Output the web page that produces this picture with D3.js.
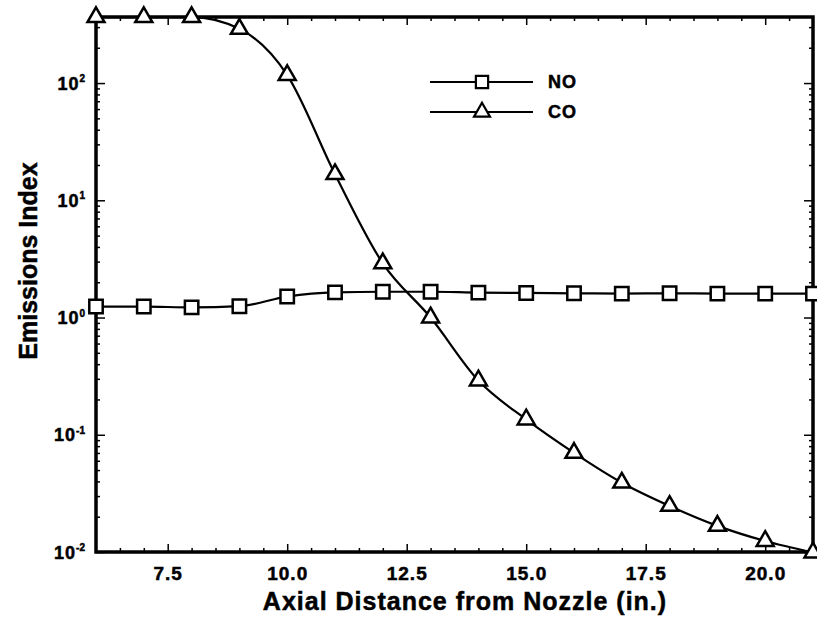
<html lang='en'>
<head>
  <meta charset='UTF-8'/>
  <title>Emissions Index vs Axial Distance</title>
  <script src='https://d3js.org/d3.v7.min.js'></script>
  <style>
    body { margin: 0; background: #fff; }
    text { font-family: 'Liberation Sans', Arial, sans-serif; font-weight: bold; fill: #000;
           stroke: #000; stroke-width: 0.5px; }
  </style>
</head>
<body>
  <svg id='chart' width='817' height='618'></svg>
</body>
</html>

<script>
// data
const distance = [6, 7, 8, 9, 10, 11, 12, 13, 14, 15, 16, 17, 18, 19, 20, 21];
const noValues = [1.24, 1.24, 1.22, 1.25, 1.51, 1.64, 1.66, 1.66, 1.63, 1.62, 1.61, 1.6, 1.61, 1.6, 1.6, 1.6];
const coValues = [365, 365, 365, 290, 117, 16.7, 2.9, 1.0, 0.29, 0.135, 0.07, 0.039, 0.0247, 0.0167, 0.0124, 0.0099];
const xTicks = [7.5, 10.0, 12.5, 15.0, 17.5, 20.0];
const yTicks = [0.01, 0.1, 1, 10, 100];
const yExps = ['-2', '-1', '0', '1', '2'];

const margin = {left: 96, top: 17, right: 4, bottom: 66};
const width = 817 - margin.left - margin.right;
const height = 618 - margin.top - margin.bottom;

const svg = d3.select('#chart');
const chart = svg.append('g').attr('transform', `translate(${margin.left},${margin.top})`);

const x = d3.scaleLinear().domain([6, 21]).range([0, width]);
const y = d3.scaleLog().domain([0.01, 366]).range([height, 0]);

const xMinor = d3.range(6.5, 21, 0.5).filter(v => xTicks.indexOf(v) < 0);
let yMinor = [];
yTicks.forEach(d => {
  for (let k = 2; k <= 9; k++) if (d * k < 366) yMinor.push(d * k);
});

function styleAxis(g) {
  g.select('.domain').remove();
  g.selectAll('line').attr('stroke', '#000').attr('stroke-width', 1.5);
}

// bottom axis - ticks point inward
chart.append('g')
  .attr('transform', `translate(0,${height})`)
  .call(d3.axisBottom(x).tickValues(xMinor).tickSize(-4).tickFormat(''))
  .call(styleAxis);
chart.append('g')
  .attr('transform', `translate(0,${height})`)
  .call(d3.axisBottom(x).tickValues(xTicks).tickSize(-8).tickFormat(d3.format('.1f')))
  .call(styleAxis)
  .call(g => g.selectAll('text')
    .attr('font-size', 19).attr('letter-spacing', 1)
    .attr('y', 28).attr('dy', 0));

// top axis
chart.append('g')
  .call(d3.axisTop(x).tickValues(xMinor).tickSize(-4).tickFormat(''))
  .call(styleAxis);
chart.append('g')
  .call(d3.axisTop(x).tickValues(xTicks).tickSize(-8).tickFormat(''))
  .call(styleAxis);

// left axis
chart.append('g')
  .call(d3.axisLeft(y).tickValues(yMinor).tickSize(-4).tickFormat(''))
  .call(styleAxis);
const yAx = chart.append('g')
  .call(d3.axisLeft(y).tickValues(yTicks).tickSize(-9).tickPadding(11).tickFormat(''))
  .call(styleAxis);
yAx.selectAll('.tick text').each(function(d, i) {
  const t = d3.select(this).attr('font-size', 18).attr('dy', '0.34em').attr('letter-spacing', 1);
  t.append('tspan').text('10');
  t.append('tspan').text(yExps[i]).attr('font-size', 10).attr('dy', '-0.75em').attr('letter-spacing', 0);
});

// right axis
chart.append('g')
  .attr('transform', `translate(${width},0)`)
  .call(d3.axisRight(y).tickValues(yMinor).tickSize(-4).tickFormat(''))
  .call(styleAxis);
chart.append('g')
  .attr('transform', `translate(${width},0)`)
  .call(d3.axisRight(y).tickValues(yTicks).tickSize(-9).tickFormat(''))
  .call(styleAxis);

// frame
chart.append('rect')
  .attr('width', width).attr('height', height)
  .attr('fill', 'none').attr('stroke', '#000').attr('stroke-width', 3.5);

const line = d3.line().x(d => x(d[0])).y(d => y(d[1])).curve(d3.curveMonotoneX);
const noData = distance.map((d, i) => [d, noValues[i]]);
const coData = distance.map((d, i) => [d, coValues[i]]);

chart.append('path').datum(noData)
  .attr('d', line).attr('fill', 'none').attr('stroke', '#000').attr('stroke-width', 2.2);
chart.append('path').datum(coData)
  .attr('d', line).attr('fill', 'none').attr('stroke', '#000').attr('stroke-width', 2.2);

const square = d3.symbol().type(d3.symbolSquare).size(180);
const triangle = d3.symbol().type(d3.symbolTriangle).size(125);

chart.selectAll('.sq').data(noData).join('path')
  .attr('class', 'sq')
  .attr('d', square)
  .attr('transform', d => `translate(${x(d[0])},${y(d[1])})`)
  .attr('fill', '#fff').attr('stroke', '#000').attr('stroke-width', 2.5);

chart.selectAll('.tri').data(coData).join('path')
  .attr('class', 'tri')
  .attr('d', triangle)
  .attr('transform', d => `translate(${x(d[0])},${y(d[1])})`)
  .attr('fill', '#fff').attr('stroke', '#000').attr('stroke-width', 2.5);

// legend
const legend = svg.append('g');
const legendRows = [['NO', square], ['CO', triangle]];
legendRows.forEach((r, i) => {
  const ly = 82 + i * 30;
  legend.append('line').attr('x1', 430).attr('x2', 533).attr('y1', ly).attr('y2', ly)
    .attr('stroke', '#000').attr('stroke-width', 2);
  legend.append('path').attr('d', r[1].size(i ? 110 : 150)).attr('transform', `translate(482,${ly})`)
    .attr('fill', '#fff').attr('stroke', '#000').attr('stroke-width', 2.2);
  legend.append('text').attr('x', 548).attr('y', ly).attr('dy', '0.36em')
    .attr('font-size', 18).attr('letter-spacing', 1).text(r[0]);
});

// axis titles
svg.append('text')
  .attr('x', 465).attr('y', 610)
  .attr('text-anchor', 'middle').attr('font-size', 25).attr('letter-spacing', 1)
  .text('Axial Distance from Nozzle (in.)');
svg.append('text')
  .attr('transform', 'translate(37,261) rotate(-90)')
  .attr('text-anchor', 'middle').attr('font-size', 25)
  .text('Emissions Index');
</script>
